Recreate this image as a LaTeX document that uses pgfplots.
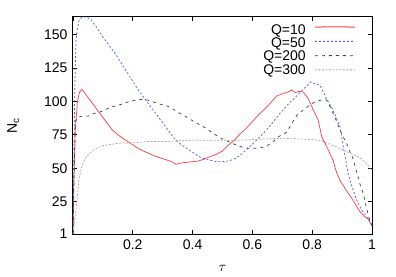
\documentclass[border=0pt]{standalone}
\usepackage{fontspec}
\setmainfont{Liberation Sans}
\usepackage{pgfplots}
\pgfplotsset{compat=1.18}
\definecolor{cred}{RGB}{255,60,60}
\definecolor{cblue}{RGB}{80,80,255}
\definecolor{cdgray}{RGB}{60,60,60}
\definecolor{clgray}{RGB}{165,165,165}
\begin{document}
\begin{tikzpicture}[font=\fontsize{14bp}{16bp}\selectfont]
\begin{axis}[
  scale only axis,
  width=299bp, height=217bp,
  xmin=0, xmax=1, ymin=1, ymax=163,
  xtick={0,0.2,0.4,0.6,0.8,1},
  xticklabels={,0.2,0.4,0.6,0.8,1},
  ytick={1,25,50,75,100,125,150},
  /pgf/number format/assume math mode=true,
  tick align=inside,
  major tick length=4bp,
  axis line style={line width=1bp},
  tick style={line width=0.8bp,black},
  xticklabel style={yshift=-2bp},
  yticklabel style={xshift=-2bp},
  xlabel={$\tau$},
  ylabel={N\textsubscript{c}},
  xlabel style={at={(axis description cs:0.5,0)}, anchor=center, yshift=-34bp},
  ylabel style={at={(axis description cs:-0.2,0.5)}, anchor=center},
  legend style={at={(rel axis cs:0.789,0.98)}, anchor=north east,
    draw=none, fill=none,
    font=\fontsize{14bp}{14bp}\selectfont, row sep=-2bp, inner sep=1bp},
  legend cell align=right,
  legend image code/.code={},
]
\addplot[draw=cred, solid, line width=0.7bp] coordinates {
(0,1) (0.003,40) (0.008,80) (0.015,100) (0.022,107) (0.03,109) (0.04,106) (0.05,103)
(0.07,97) (0.09,91) (0.11,85) (0.13,79) (0.15,75) (0.17,72) (0.19,69) (0.21,66)
(0.23,63.5) (0.25,61.5) (0.27,59.5) (0.29,58) (0.31,56.5) (0.33,55) (0.345,53) (0.36,54)
(0.38,54.5) (0.40,55) (0.42,55.5) (0.44,57) (0.46,59) (0.48,60.5) (0.50,63) (0.52,67.5)
(0.54,71) (0.56,76) (0.58,80) (0.60,85) (0.625,91) (0.64,94) (0.659,98.5) (0.681,104)
(0.703,106) (0.72,107) (0.731,108.5) (0.745,106.5) (0.755,107.5) (0.77,107) (0.787,102)
(0.804,93.5) (0.82,86) (0.832,73.6) (0.854,63.7) (0.87,56) (0.88,48) (0.893,41)
(0.91,35) (0.937,26) (0.96,17.6) (0.975,14) (0.988,12) (1.00,7)
};
\addlegendentry{Q=10}
\addplot[draw=cblue, dash pattern=on 2bp off 2bp, line width=0.7bp] coordinates {
(0,1) (0.003,60) (0.006,110) (0.01,145) (0.015,155) (0.02,160) (0.03,163) (0.045,163)
(0.06,161) (0.08,155) (0.10,148) (0.12,142) (0.14,136) (0.16,129) (0.18,122) (0.20,115)
(0.22,108) (0.24,102) (0.26,96) (0.28,90) (0.30,84) (0.32,78) (0.34,72) (0.36,68)
(0.38,65) (0.40,62) (0.42,59) (0.44,57) (0.46,56) (0.48,55) (0.50,55) (0.52,55.5)
(0.54,57) (0.56,60) (0.58,64) (0.60,68) (0.625,73.6) (0.64,77) (0.66,82) (0.692,91)
(0.72,98) (0.748,104) (0.77,109) (0.795,114.5) (0.81,113) (0.826,112) (0.848,102)
(0.87,93.5) (0.893,81) (0.904,66) (0.91,58.7) (0.92,46) (0.935,35) (0.949,26)
(0.965,19) (0.982,14) (0.99,11) (1.00,7)
};
\addlegendentry{Q=50}
\addplot[draw=cdgray, dash pattern=on 3bp off 4bp, line width=0.7bp] coordinates {
(0,1) (0.004,50) (0.008,85) (0.015,88) (0.03,89) (0.05,89) (0.07,91) (0.09,92)
(0.11,94) (0.13,96) (0.15,97) (0.17,98.5) (0.19,100) (0.21,101) (0.23,101.5) (0.25,101)
(0.27,99.5) (0.29,98) (0.31,97) (0.33,95) (0.35,92) (0.37,89.5) (0.39,87) (0.41,84)
(0.43,82) (0.45,79) (0.47,76) (0.49,73) (0.51,71) (0.53,69) (0.55,67) (0.57,65.5)
(0.59,65) (0.61,65) (0.63,65.5) (0.65,67) (0.67,70) (0.69,74) (0.715,77) (0.73,83)
(0.75,90) (0.77,93.5) (0.79,97) (0.809,99.7) (0.83,101) (0.848,101) (0.86,96)
(0.87,91) (0.88,86) (0.893,78.6) (0.905,73) (0.915,68.7) (0.925,63) (0.937,57)
(0.95,46) (0.96,38) (0.971,31) (0.98,22) (0.99,13) (1.00,8)
};
\addlegendentry{Q=200}
\addplot[draw=clgray, dash pattern=on 2bp off 1.5bp, line width=0.7bp] coordinates {
(0,1) (0.005,10) (0.01,20) (0.015,30) (0.02,42) (0.03,52) (0.04,57) (0.05,60)
(0.06,62) (0.08,65) (0.10,67) (0.13,68) (0.16,69) (0.20,69) (0.25,70) (0.30,70)
(0.35,70.5) (0.40,71) (0.45,71) (0.50,71) (0.55,71) (0.60,71.5) (0.65,72) (0.70,72.5)
(0.75,72) (0.80,71.5) (0.83,70.5) (0.86,68) (0.88,66) (0.90,64) (0.92,62) (0.94,60)
(0.96,58) (0.98,54) (0.99,51) (1.00,48)
};
\addlegendentry{Q=300}
\addplot[forget plot, draw=cred, solid, line width=1bp] coordinates {(0.809,155.5) (0.876,155.6) (0.943,155.5)};
\addplot[forget plot, draw=cblue, dash pattern=on 2bp off 2bp, line width=1bp] coordinates {(0.809,144.8) (0.876,144.9) (0.943,144.8)};
\addplot[forget plot, draw=cdgray, dash pattern=on 3bp off 4bp, line width=0.8bp] coordinates {(0.809,134.1) (0.876,134.2) (0.943,134.1)};
\addplot[forget plot, draw=clgray, dash pattern=on 2bp off 1.5bp, line width=0.8bp] coordinates {(0.809,123.5) (0.876,123.6) (0.943,123.5)};
\end{axis}
\path (-73bp,-43bp) rectangle (323bp,234bp);
\end{tikzpicture}
\end{document}
